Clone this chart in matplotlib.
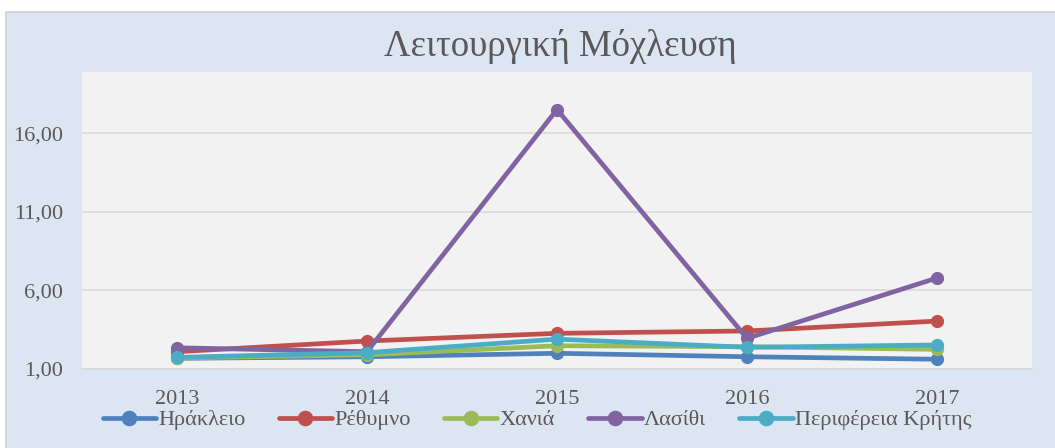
import matplotlib.pyplot as plt
from matplotlib.patches import Rectangle
from matplotlib.ticker import FuncFormatter

years = ['2013', '2014', '2015', '2016', '2017']
series_names = ['Ηράκλειο', 'Ρέθυμνο', 'Χανιά', 'Λασίθι', 'Περιφέρεια Κρήτης']
irakleio = [1.68, 1.78, 2.00, 1.78, 1.62]
rethymno = [2.10, 2.78, 3.27, 3.42, 4.05]
chania = [1.70, 1.90, 2.48, 2.42, 2.25]
lasithi = [2.35, 2.10, 17.51, 2.95, 6.79]
periferia = [1.74, 2.04, 2.90, 2.38, 2.53]
colors = ['#4F81BD', '#C0504D', '#9BBB59', '#8064A2', '#4BACC6']

plt.rcParams['font.family'] = ['Liberation Serif', 'DejaVu Serif']

fig = plt.figure(figsize=(10.55, 4.48), dpi=100)
fig.patch.set_facecolor('white')
fig.patches.append(Rectangle((6 / 1055, -0.01), 1.0, (448 - 12) / 448 + 0.01,
                             transform=fig.transFigure, facecolor='#DCE6F2',
                             edgecolor='#D0D0D0', linewidth=1.2, zorder=-10))

ax = fig.add_axes([82 / 1055, (448 - 369) / 448, 950 / 1055, 297 / 448])
ax.set_facecolor('#F2F2F2')

x = range(len(years))
for name, vals, c in zip(series_names, [irakleio, rethymno, chania, lasithi, periferia], colors):
    ax.plot(x, vals, color=c, linewidth=3.4, marker='o', markersize=8.5,
            label=name, solid_capstyle='round')

ax.set_xlim(-0.5, len(years) - 0.5)
ax.set_ylim(1, 19.9)
ax.set_yticks([1, 6, 11, 16])
ax.yaxis.set_major_formatter(FuncFormatter(lambda v, p: f'{v:.2f}'.replace('.', ',')))
ax.set_xticks(list(x))
ax.set_xticklabels(years)
ax.grid(axis='y', color='#D9D9D9', linewidth=1.2)
ax.set_axisbelow(True)
for s in ['top', 'right', 'left']:
    ax.spines[s].set_visible(False)
ax.spines['bottom'].set_color('#D9D9D9')
ax.spines['bottom'].set_linewidth(1.2)
ax.tick_params(axis='both', length=0, labelsize=16, colors='#595959')
ax.tick_params(axis='x', pad=15)
ax.tick_params(axis='y', pad=13.5)

fig.text(560 / 1055, 1 - 46 / 448, 'Λειτουργική Μόχλευση', ha='center', va='center',
         fontsize=26.5, color='#595959')

leg = fig.legend(loc='center', bbox_to_anchor=(537 / 1055, 1 - 420 / 448), ncol=5,
                 frameon=False, fontsize=16, handlelength=2.4, handletextpad=0.1,
                 columnspacing=1.5, borderaxespad=0, markerscale=1.2)
for t in leg.get_texts():
    t.set_color('#595959')

fig.savefig('out.png', dpi=100)
